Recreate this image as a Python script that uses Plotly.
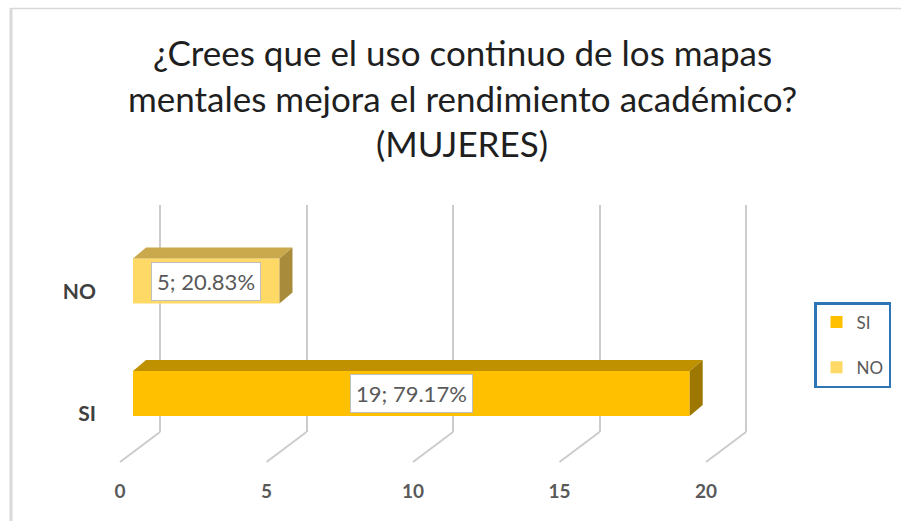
import plotly.graph_objects as go

# ---------------- data ----------------
categories = ["SI", "NO"]
counts = [19, 5]
front_colors = ["#FFC000", "#FFD966"]
top_colors = ["#BF9000", "#C9A94B"]
side_colors = ["#9E7700", "#A88C3C"]
x_ticks = [0, 5, 10, 15, 20]
title_lines = [
    "¿Crees que el uso continuo de los mapas",
    "mentales mejora el rendimiento académico?",
    "(MUJERES)",
]

total = sum(counts)
pcts = [c / total * 100 for c in counts]
positions = list(range(len(categories)))  # SI = 0, NO = 1

# ---------------- geometry (pixels) ----------------
W, H = 901, 521
L, R, T, B = 100, 780, 205, 432
k = 29.3            # px per unit on x
x_front0 = 133      # front face zero
x_back0 = 160       # back wall zero
x_label0 = 120      # label plane zero
ky = 112.5          # px per category step
y_cat0 = 393.5      # px of first category (front face centre)
slant_bottom = 462
depth_dx, depth_dy = 13, 11
bar_w = 0.4
label_off_px = [20, 11]


def px(xp):
    return (xp - L) / (R - L)


def py(yp):
    return (B - yp) / (B - T)


dxu = depth_dx / k
dyu = depth_dy / ky
h = bar_w / 2

fig = go.Figure()

for i, cat in enumerate(categories):
    v, c = counts[i], positions[i]
    fig.add_trace(go.Bar(
        x=[v], y=[c], orientation="h", width=bar_w,
        marker=dict(color=front_colors[i], line=dict(width=0)),
        name=cat, legendgroup=cat, xaxis="x2", yaxis="y",
        hoverinfo="skip",
    ))
    # top face
    fig.add_trace(go.Scatter(
        x=[0, v, v + dxu, dxu, 0],
        y=[c + h, c + h, c + h + dyu, c + h + dyu, c + h],
        fill="toself", fillcolor=top_colors[i], mode="lines",
        line=dict(width=0, color=top_colors[i]),
        showlegend=False, hoverinfo="skip", xaxis="x2", yaxis="y",
    ))
    # side face
    fig.add_trace(go.Scatter(
        x=[v, v + dxu, v + dxu, v, v],
        y=[c - h, c - h + dyu, c + h + dyu, c + h, c - h],
        fill="toself", fillcolor=side_colors[i], mode="lines",
        line=dict(width=0, color=side_colors[i]),
        showlegend=False, hoverinfo="skip", xaxis="x2", yaxis="y",
    ))

# dummy trace for the label axis
fig.add_trace(go.Scatter(x=[None], y=[None], xaxis="x3", yaxis="y",
                         showlegend=False, hoverinfo="skip"))

annotations = []
for i, cat in enumerate(categories):
    annotations.append(dict(
        x=counts[i] / 2, y=positions[i], xref="x2", yref="y",
        text=f"{counts[i]}; {pcts[i]:.2f}%", showarrow=False,
        font=dict(family="Lato", size=22, color="#595959"),
        bgcolor="white", bordercolor="#BFBFBF", borderwidth=1, borderpad=5,
    ))

title_y = [52, 98, 143]
for line, yy in zip(title_lines, title_y):
    annotations.append(dict(
        x=px(462), y=py(yy), xref="paper", yref="paper",
        xanchor="center", yanchor="middle", text=line, showarrow=False,
        font=dict(family="Lato", size=35, color="#1F1F1F"),
    ))

shapes = []
for v in x_ticks:
    shapes.append(dict(
        type="line", xref="x", yref="paper",
        x0=v, y0=0, x1=v + (x_label0 - x_back0) / k, y1=py(slant_bottom),
        line=dict(color="#CCCCCC", width=2),
    ))
# chart border (left and top)
shapes.append(dict(type="line", xref="paper", yref="paper",
                   x0=px(11), x1=px(11), y0=py(8), y1=py(H),
                   line=dict(color="#D9D9D9", width=3)))
shapes.append(dict(type="line", xref="paper", yref="paper",
                   x0=px(10), x1=px(W), y0=py(8.5), y1=py(8.5),
                   line=dict(color="#D9D9D9", width=1.5)))

fig.update_layout(
    width=W, height=H,
    margin=dict(l=L, r=W - R, t=T, b=H - B, autoexpand=False),
    paper_bgcolor="white", plot_bgcolor="white",
    font=dict(family="Lato", color="#595959"),
    barmode="overlay",
    showlegend=True,
    xaxis=dict(range=[(L - x_back0) / k, (R - x_back0) / k],
               tickvals=x_ticks, showgrid=True, gridcolor="#CCCCCC",
               gridwidth=2, showticklabels=False, zeroline=False,
               showline=False, fixedrange=True),
    xaxis2=dict(overlaying="x", anchor="y",
                range=[(L - x_front0) / k, (R - x_front0) / k],
                visible=False, fixedrange=True),
    xaxis3=dict(overlaying="x", anchor="y", side="bottom",
                range=[(L - x_label0) / k, (R - x_label0) / k],
                tickvals=x_ticks, ticktext=[str(t) for t in x_ticks],
                showgrid=False, zeroline=False, showline=False, ticks="",
                tickfont=dict(family="Lato", size=19, color="#595959",
                              weight="bold"),
                ticklabelstandoff=46, fixedrange=True),
    yaxis=dict(range=[-(B - y_cat0) / ky, (y_cat0 - T) / ky],
               tickvals=[p - o / ky for p, o in zip(positions, label_off_px)],
               ticktext=categories, showgrid=False, zeroline=False,
               showline=False, ticks="",
               tickfont=dict(family="Lato", size=21, color="#404040",
                             weight="bold"),
               ticklabelstandoff=3, fixedrange=True),
    legend=dict(x=px(814), y=py(302), xanchor="left", yanchor="top",
                bordercolor="#2E75B6", borderwidth=2.5, bgcolor="white",
                font=dict(family="Lato", size=17, color="#595959"),
                traceorder="grouped", tracegroupgap=20),
    annotations=annotations,
    shapes=shapes,
)

fig.write_html("out.html",
               config={"displayModeBar": False},
               post_script="document.body.style.margin='0';")
